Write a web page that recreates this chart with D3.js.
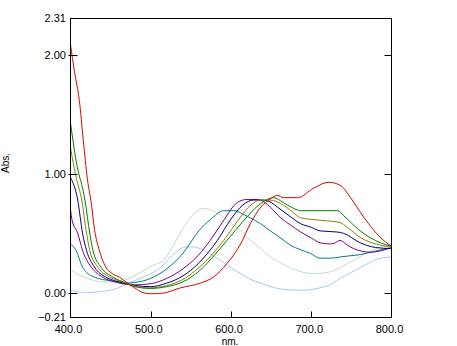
<!DOCTYPE html>
<html>
<head>
<meta charset="utf-8">
<script src="https://cdn.jsdelivr.net/npm/d3@7"></script>
<style>
  html, body { margin: 0; padding: 0; background: #fff; }
  svg { display: block; }
  text { font-family: Arial, "Liberation Sans", sans-serif; fill: #000; }
</style>
</head>
<body>
<svg id="chart" width="457" height="346"></svg>
<script>
// Absorption spectra, wavelength (nm) vs absorbance
const xTickValues = [400, 500, 600, 700, 800];
const yTickValues = [-0.21, 0.00, 1.00, 2.00, 2.31];
const yInnerTicks = [0.00, 1.00, 2.00];
const xInnerTicks = [500, 600, 700];

const redNm   = [400, 405, 411, 416, 421, 426, 430, 436, 444, 452, 461, 470, 480, 490, 500, 515, 537, 562, 578, 595, 612, 624, 637, 649, 658, 665, 683, 703, 722, 737, 749, 766, 786, 800];
const redAbs  = [2.09, 1.86, 1.62, 1.28, 0.96, 0.75, 0.53, 0.355, 0.214, 0.16, 0.13, 0.085, 0.04, 0.0, -0.01, -0.005, 0.04, 0.08, 0.13, 0.245, 0.41, 0.58, 0.72, 0.79, 0.82, 0.80, 0.80, 0.88, 0.93, 0.90, 0.80, 0.63, 0.465, 0.39];

const greenNm  = [400, 407, 418, 424, 428, 438, 453, 469, 480, 500, 520, 540, 560, 580, 595, 615, 635, 653, 665, 675, 687, 733, 740, 761, 786, 800];
const greenAbs = [1.43, 1.11, 0.78, 0.5, 0.355, 0.214, 0.13, 0.08, 0.05, 0.035, 0.05, 0.09, 0.18, 0.32, 0.44, 0.6, 0.74, 0.80, 0.76, 0.72, 0.69, 0.69, 0.65, 0.52, 0.42, 0.39];

const oliveNm  = [400, 407, 414, 420, 424, 434, 449, 460, 469, 480, 500, 520, 540, 560, 575, 591, 610, 625, 637, 648, 662, 675, 687, 711, 736, 745, 761, 786, 800];
const oliveAbs = [1.22, 0.97, 0.78, 0.5, 0.355, 0.214, 0.13, 0.1, 0.08, 0.055, 0.04, 0.06, 0.11, 0.21, 0.31, 0.44, 0.62, 0.74, 0.78, 0.78, 0.75, 0.69, 0.63, 0.61, 0.59, 0.55, 0.465, 0.40, 0.38];

const navyNm  = [400, 409, 415, 420, 430, 444, 455, 469, 480, 500, 520, 540, 560, 583, 600, 615, 628, 640, 650, 658, 672, 687, 700, 711, 733, 740, 761, 780, 800];
const navyAbs = [0.97, 0.78, 0.5, 0.355, 0.214, 0.13, 0.1, 0.075, 0.06, 0.05, 0.08, 0.14, 0.25, 0.44, 0.62, 0.74, 0.78, 0.78, 0.76, 0.72, 0.65, 0.58, 0.55, 0.52, 0.51, 0.50, 0.42, 0.38, 0.37];

const purpleNm  = [400, 402, 409, 415, 426, 440, 455, 469, 480, 500, 520, 540, 560, 574, 590, 608, 620, 632, 642, 649, 662, 674, 687, 700, 711, 724, 730, 736, 745, 753, 774, 800];
const purpleAbs = [0.70, 0.61, 0.50, 0.355, 0.214, 0.13, 0.09, 0.07, 0.065, 0.075, 0.12, 0.2, 0.32, 0.44, 0.6, 0.76, 0.785, 0.785, 0.76, 0.72, 0.63, 0.57, 0.51, 0.46, 0.42, 0.41, 0.42, 0.44, 0.40, 0.37, 0.34, 0.38];

const tealNm  = [400, 407, 415, 420, 430, 440, 450, 460, 470, 480, 500, 520, 540, 560, 575, 591, 605, 615, 624, 637, 649, 662, 674, 687, 699, 711, 724, 736, 748, 761, 780, 800];
const tealAbs = [0.41, 0.355, 0.214, 0.17, 0.13, 0.11, 0.10, 0.09, 0.08, 0.085, 0.12, 0.2, 0.33, 0.52, 0.62, 0.69, 0.69, 0.66, 0.63, 0.58, 0.52, 0.46, 0.40, 0.36, 0.33, 0.29, 0.29, 0.30, 0.31, 0.32, 0.35, 0.38];

const paleNm  = [400, 410, 417, 430, 440, 450, 460, 470, 480, 490, 500, 517, 530, 541, 552, 566, 580, 599, 612, 624, 637, 649, 662, 674, 690, 703, 720, 733, 745, 758, 770, 785, 800];
const paleAbs = [0.20, 0.15, 0.13, 0.10, 0.09, 0.09, 0.095, 0.11, 0.14, 0.18, 0.22, 0.28, 0.42, 0.55, 0.65, 0.71, 0.68, 0.59, 0.52, 0.44, 0.37, 0.30, 0.25, 0.21, 0.17, 0.16, 0.17, 0.20, 0.245, 0.29, 0.34, 0.38, 0.41];

const blueNm  = [400, 420, 440, 460, 471, 480, 490, 500, 512, 525, 541, 550, 562, 575, 587, 600, 612, 625, 637, 650, 662, 687, 711, 725, 736, 750, 761, 775, 786, 800];
const blueAbs = [0.02, 0.0, 0.01, 0.04, 0.075, 0.1, 0.13, 0.16, 0.21, 0.3, 0.38, 0.385, 0.37, 0.32, 0.27, 0.21, 0.16, 0.11, 0.08, 0.05, 0.03, 0.02, 0.04, 0.07, 0.12, 0.17, 0.21, 0.26, 0.29, 0.30];

// Series drawn back to front
const seriesList = [
  { name: "blue",   nm: blueNm,   abs: blueAbs,   color: "#a6caf0" },
  { name: "pale",   nm: paleNm,   abs: paleAbs,   color: "#c0dcc0" },
  { name: "teal",   nm: tealNm,   abs: tealAbs,   color: "#008080" },
  { name: "purple", nm: purpleNm, abs: purpleAbs, color: "#800080" },
  { name: "navy",   nm: navyNm,   abs: navyAbs,   color: "#000080" },
  { name: "olive",  nm: oliveNm,  abs: oliveAbs,  color: "#8c8000" },
  { name: "green",  nm: greenNm,  abs: greenAbs,  color: "#008000" },
  { name: "red",    nm: redNm,    abs: redAbs,    color: "#dc0000" }
];

const svg = d3.select("#chart");
const plot = { left: 70.5, right: 391.5, top: 18.5, bottom: 317.5 };

const x = d3.scaleLinear().domain([400, 800]).range([plot.left, plot.right]);
const y = d3.scaleLinear().domain([-0.21, 2.31]).range([plot.bottom, plot.top]);

// Spectra, clipped to the frame
svg.append("clipPath").attr("id", "plotClip")
  .append("rect")
  .attr("x", plot.left).attr("y", plot.top)
  .attr("width", plot.right - plot.left).attr("height", plot.bottom - plot.top);

const line = d3.line()
  .x(d => x(d[0]))
  .y(d => y(d[1]))
  .curve(d3.curveMonotoneX);

const curves = svg.append("g").attr("clip-path", "url(#plotClip)");
seriesList.forEach(s => {
  curves.append("path")
    .datum(s.nm.map((v, i) => [v, s.abs[i]]))
    .attr("fill", "none")
    .attr("stroke", s.color)
    .attr("stroke-width", 1)
    .attr("d", line);
});

// Frame
svg.append("rect")
  .attr("x", plot.left).attr("y", plot.top)
  .attr("width", plot.right - plot.left).attr("height", plot.bottom - plot.top)
  .attr("fill", "none").attr("stroke", "#000").attr("stroke-width", 1);

// Inner ticks on left, right and bottom edges
const tickG = svg.append("g").attr("stroke", "#000").attr("stroke-width", 1);
yInnerTicks.forEach(v => {
  const yy = Math.round(y(v)) + 0.5;
  tickG.append("line").attr("x1", plot.left - 2).attr("x2", plot.left + 7).attr("y1", yy).attr("y2", yy);
  tickG.append("line").attr("x1", plot.right - 7).attr("x2", plot.right).attr("y1", yy).attr("y2", yy);
});
xInnerTicks.forEach(v => {
  const xx = Math.round(x(v)) + 0.5;
  tickG.append("line").attr("x1", xx).attr("x2", xx).attr("y1", plot.bottom - 6).attr("y2", plot.bottom);
});

// Tick labels
svg.append("g").selectAll("text")
  .data(yTickValues)
  .join("text")
  .attr("x", 66)
  .attr("y", d => y(d))
  .attr("dy", "0.36em")
  .attr("text-anchor", "end")
  .attr("font-size", 11)
  .text(d => d3.format(".2f")(d));

svg.append("g").selectAll("text")
  .data(xTickValues)
  .join("text")
  .attr("x", d => x(d) - 2)
  .attr("y", 333)
  .attr("text-anchor", "middle")
  .attr("font-size", 11)
  .text(d => d3.format(".1f")(d));

// Axis titles
svg.append("text")
  .attr("x", 230).attr("y", 344.5)
  .attr("text-anchor", "middle").attr("font-size", 10)
  .text("nm.");

svg.append("text")
  .attr("transform", "translate(5,163) rotate(-90)")
  .attr("dy", "0.36em")
  .attr("text-anchor", "middle").attr("font-size", 10)
  .text("Abs.");
</script>
</body>
</html>
